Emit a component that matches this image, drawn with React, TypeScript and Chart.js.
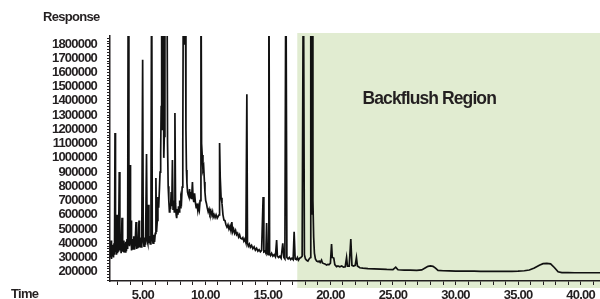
import React, { useEffect, useRef } from "react";
import { Chart, registerables } from "chart.js";

Chart.register(...registerables);

// Retention time (min)
const times: number[] = [
  2.38, 2.42, 2.46, 2.5, 2.54, 2.58, 2.62, 2.66, 2.7, 2.74, 2.78, 2.82, 2.86, 2.9, 2.94, 2.98, 3.02, 3.06, 3.12, 3.17,
  3.22, 3.27, 3.34, 3.39, 3.44, 3.49, 3.54, 3.59, 3.64, 3.69, 3.74, 3.79, 3.84, 3.89, 3.94, 3.98, 4.02, 4.06, 4.1, 4.16,
  4.22, 4.28, 4.34, 4.4, 4.46, 4.51, 4.56, 4.61, 4.7, 4.74, 4.8, 4.86, 4.92, 4.99, 5.04, 5.1, 5.16, 5.22, 5.3, 5.35,
  5.4, 5.44, 5.49, 5.55, 5.6, 5.65, 5.71, 5.76, 5.82, 5.88, 5.94, 6.0, 6.05, 6.1, 6.16, 6.21, 6.27, 6.33, 6.38, 6.43,
  6.47, 6.51, 6.56, 6.61, 6.68, 6.72, 6.77, 6.85, 6.93, 6.98, 7.03, 7.08, 7.13, 7.17, 7.22, 7.27, 7.32, 7.37, 7.42, 7.47,
  7.52, 7.57, 7.62, 7.67, 7.71, 7.76, 7.81, 7.86, 7.9, 7.95, 8.0, 8.05, 8.1, 8.15, 8.2, 8.25, 8.3, 8.35, 8.4, 8.45,
  8.49, 8.53, 8.58, 8.63, 8.69, 8.74, 8.79, 8.84, 8.9, 8.97, 9.02, 9.08, 9.14, 9.21, 9.27, 9.33, 9.4, 9.45, 9.52, 9.58,
  9.65, 9.7, 9.75, 9.81, 9.87, 9.93, 9.97, 10.03, 10.09, 10.15, 10.23, 10.3, 10.37, 10.44, 10.52, 10.58, 10.63, 10.7, 10.78, 10.86,
  10.95, 11.03, 11.1, 11.14, 11.19, 11.26, 11.33, 11.41, 11.49, 11.57, 11.65, 11.73, 11.81, 11.89, 11.97, 12.04, 12.12, 12.18, 12.26, 12.34,
  12.42, 12.5, 12.58, 12.66, 12.74, 12.82, 12.92, 13.0, 13.08, 13.16, 13.24, 13.32, 13.37, 13.44, 13.52, 13.6, 13.7, 13.8, 13.9, 14.0,
  14.1, 14.2, 14.3, 14.4, 14.5, 14.62, 14.68, 14.76, 14.84, 14.9, 14.96, 15.02, 15.08, 15.14, 15.22, 15.3, 15.4, 15.5, 15.6, 15.7,
  15.76, 15.86, 15.96, 16.06, 16.19, 16.28, 16.36, 16.44, 16.52, 16.62, 16.72, 16.82, 16.92, 17.02, 17.1, 17.18, 17.29, 17.36, 17.44, 17.54,
  17.64, 17.74, 17.84, 17.92, 18.0, 18.1, 18.2, 18.3, 18.4, 18.43, 18.47, 18.5, 18.56, 18.6, 18.66, 18.72, 18.8, 18.9, 19.02, 19.1, 19.18,
  19.29, 19.36, 19.46, 19.56, 19.69, 19.8, 19.9, 20.0, 20.09, 20.15, 20.27, 20.35, 20.49, 20.6, 20.75, 20.9, 21.05, 21.18, 21.29, 21.36,
  21.5, 21.63, 21.72, 21.85, 21.98, 22.08, 22.16, 22.35, 22.6, 23.0, 23.5, 24.0, 24.5, 25.0, 25.22, 25.4, 25.9, 26.4, 26.9, 27.3,
  27.6, 27.8, 28.0, 28.2, 28.4, 28.6, 29.0, 29.5, 30.0, 30.5, 31.0, 31.5, 32.0, 32.5, 33.0, 33.5, 34.0, 34.5, 35.0, 35.5,
  35.9, 36.3, 36.7, 37.0, 37.3, 37.6, 37.9, 38.2, 38.5, 39.0, 39.5, 40.0, 40.5, 41.0, 41.55,
];

// Detector response, in thousands of counts
const responsesK: number[] = [
  380, 300, 420, 290, 390, 310, 360, 300, 400, 320, 1175, 340, 390, 320, 600, 330, 380, 340, 900, 350,
  420, 330, 580, 340, 420, 335, 400, 340, 410, 345, 430, 360, 2500, 420, 380, 950, 390, 560, 350, 430,
  360, 450, 355, 420, 550, 360, 430, 365, 560, 370, 440, 375, 430, 1690, 420, 380, 440, 390, 1027, 420,
  400, 670, 400, 450, 395, 440, 2500, 430, 400, 460, 410, 470, 858, 480, 560, 725, 650, 780, 900, 1030,
  1360, 2500, 1200, 2500, 1000, 1150, 2500, 2500, 2500, 1100, 800, 700, 620, 680, 640, 760, 660, 985, 640, 700,
  620, 1315, 680, 600, 577, 640, 600, 660, 620, 700, 650, 720, 700, 795, 1100, 2500, 1800, 2500, 2500, 1200,
  915, 823, 760, 740, 725, 780, 720, 760, 710, 830, 720, 690, 750, 683, 650, 680, 630, 660, 633, 700,
  2500, 1100, 1020, 915, 935, 830, 760, 700, 680, 650, 620, 640, 610, 630, 600, 620, 584, 600, 580, 600,
  577, 590, 600, 1104, 865, 720, 683, 600, 563, 560, 530, 514, 530, 500, 520, 490, 549, 480, 500, 470,
  490, 460, 470, 444, 460, 435, 430, 440, 415, 430, 405, 1446, 400, 380, 395, 372, 385, 362, 375, 352,
  365, 345, 355, 340, 350, 725, 340, 345, 330, 542, 330, 320, 2500, 330, 315, 330, 310, 320, 305, 423,
  310, 300, 310, 295, 400, 300, 290, 2500, 300, 290, 300, 285, 295, 285, 480, 290, 285, 300, 282, 295,
  300, 310, 2500, 320, 290, 280, 275, 290, 300, 2500, 800, 600, 2500, 700, 444, 330, 290, 275, 270, 275, 265,
  282, 262, 258, 255, 247, 252, 250, 260, 394, 300, 296, 250, 235, 240, 235, 240, 232, 235, 300, 240,
  240, 430, 245, 240, 245, 300, 240, 228, 225, 222, 220, 218, 216, 215, 232, 214, 212, 211, 210, 213,
  228, 238, 241, 238, 225, 210, 207, 206, 205, 205, 204, 204, 203, 203, 203, 203, 203, 203, 204, 207,
  212, 226, 246, 257, 259, 255, 230, 200, 194, 194, 193, 193, 193, 193, 193,
];
const RESPONSE_UNIT = 1000;

const xMin = 2.38;
const xMax = 41.55;
const yMin = 135000;
const yMax = 1856000;
const xLabelTimes = [5, 10, 15, 20, 25, 30, 35, 40];
const yLabelValues = [
  200000, 300000, 400000, 500000, 600000, 700000, 800000, 900000, 1000000,
  1100000, 1200000, 1300000, 1400000, 1500000, 1600000, 1700000, 1800000,
];
const yMinorStep = 20000;
const xMinorStep = 1;
const backflushStart = 17.35;

const INK = "#231f20";
const FONT = "'Liberation Sans', Arial, sans-serif";

export default function App() {
  const canvasRef = useRef<HTMLCanvasElement | null>(null);

  useEffect(() => {
    document.body.style.margin = "0";
    const canvas = canvasRef.current;
    if (!canvas) return;

    const points = times.map((t, i) => ({ x: t, y: responsesK[i] * RESPONSE_UNIT }));

    const regionPlugin = {
      id: "backflushRegion",
      beforeDraw(chart: any) {
        const { ctx, chartArea, scales } = chart;
        const x0 = scales.x.getPixelForValue(backflushStart);
        ctx.save();
        ctx.fillStyle = "#e1ecd1";
        ctx.fillRect(x0, chartArea.top - 3, chart.width - x0, chartArea.bottom - chartArea.top + 10);
        ctx.restore();
        // tighter tracking to imitate the condensed typeface of the original
        ctx.letterSpacing = "-0.8px";
      },
      afterDraw(chart: any) {
        const { ctx, chartArea, scales } = chart;
        ctx.save();
        ctx.fillStyle = INK;
        ctx.textBaseline = "alphabetic";
        ctx.textAlign = "left";
        ctx.letterSpacing = "-0.7px";
        ctx.font = `bold 13px ${FONT}`;
        ctx.fillText("Response", 43, 21);
        ctx.fillText("Time", 11, chartArea.bottom + 17);
        ctx.textAlign = "center";
        ctx.letterSpacing = "-0.9px";
        ctx.font = `bold 17.5px ${FONT}`;
        const cx = scales.x.getPixelForValue(27.9);
        ctx.fillText("Backflush Region", cx, 104);
        ctx.restore();
        ctx.letterSpacing = "0px";
      },
    };

    const chart = new Chart(canvas, {
      type: "line",
      data: {
        datasets: [
          {
            data: points,
            borderColor: "#111111",
            borderWidth: 1.7,
            pointRadius: 0,
            tension: 0,
            fill: false,
          },
        ],
      },
      options: {
        responsive: false,
        animation: false,
        layout: { padding: { top: 36, right: 0, left: 0, bottom: 0 } },
        plugins: { legend: { display: false }, tooltip: { enabled: false } },
        scales: {
          x: {
            type: "linear",
            min: xMin,
            max: xMax,
            afterFit: (scale: any) => {
              scale.height = 18;
            },
            afterBuildTicks: (scale: any) => {
              const ticks = [];
              for (let v = Math.ceil(xMin); v <= xMax; v += xMinorStep) ticks.push({ value: v });
              scale.ticks = ticks;
            },
            ticks: {
              autoSkip: false,
              maxRotation: 0,
              padding: 3,
              color: INK,
              font: { family: FONT, weight: "bold", size: 13 },
              callback: (v: any) => (xLabelTimes.includes(Number(v)) ? Number(v).toFixed(2) : ""),
            },
            grid: {
              display: true,
              drawOnChartArea: false,
              drawTicks: true,
              tickLength: 4,
              color: INK,
              lineWidth: 1,
            },
            border: { display: true, color: INK, width: 1.5 },
          },
          y: {
            type: "linear",
            min: yMin,
            max: yMax,
            afterFit: (scale: any) => {
              scale.width = 110;
            },
            afterBuildTicks: (scale: any) => {
              const ticks = [];
              for (let v = Math.ceil(yMin / yMinorStep) * yMinorStep; v <= yMax; v += yMinorStep) ticks.push({ value: v });
              scale.ticks = ticks;
            },
            ticks: {
              autoSkip: false,
              padding: 10,
              color: INK,
              font: { family: FONT, weight: "bold", size: 13 },
              callback: (v: any) => (yLabelValues.includes(Number(v)) ? String(v) : ""),
            },
            grid: {
              display: true,
              drawOnChartArea: false,
              drawTicks: true,
              tickLength: 3,
              color: INK,
              lineWidth: 1,
            },
            border: { display: true, color: INK, width: 1.5 },
          },
        },
      } as any,
      plugins: [regionPlugin],
    });

    return () => chart.destroy();
  }, []);

  return (
    <div style={{ width: 600, height: 299 }}>
      <canvas ref={canvasRef} width={600} height={299} style={{ display: "block" }} />
    </div>
  );
}
